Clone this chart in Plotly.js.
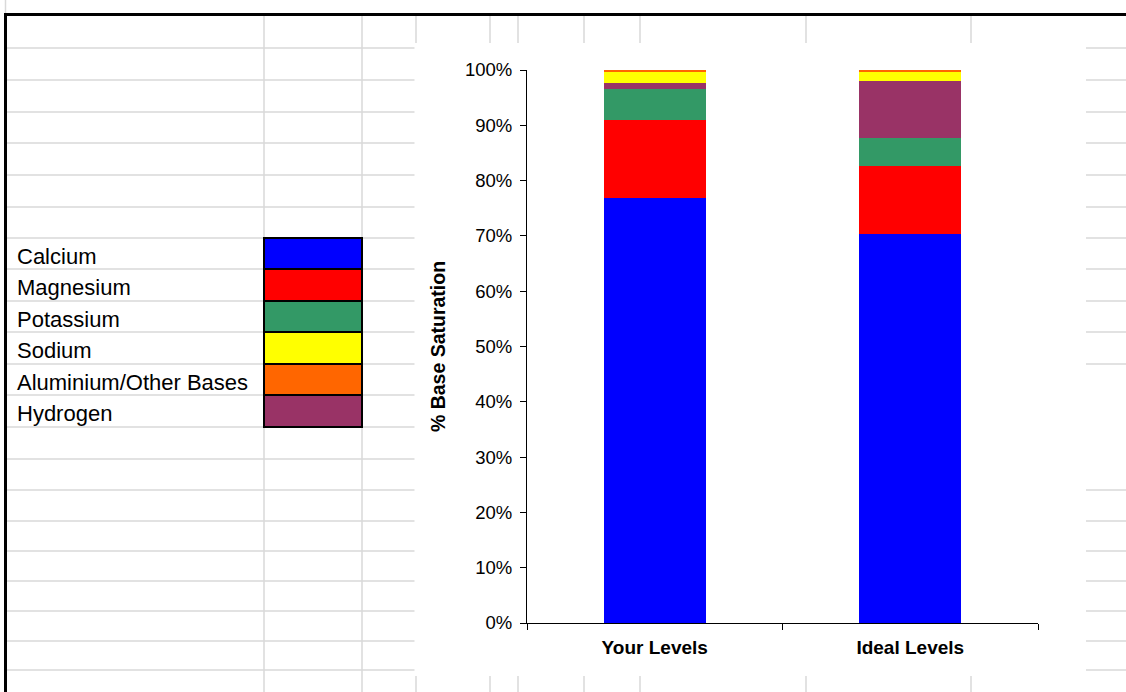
<!DOCTYPE html>
<html>
<head>
<meta charset="utf-8">
<script src="https://cdn.plot.ly/plotly-3.0.1.min.js"></script>
<style>
html,body{margin:0;padding:0;background:#fff;}
#chart{width:1126px;height:692px;}
</style>
</head>
<body>
<div id="chart"></div>
<script>
// ---- data ----
var categories = ["Your Levels", "Ideal Levels"];
var seriesNames = ["Calcium", "Magnesium", "Potassium", "Hydrogen", "Sodium", "Aluminium/Other Bases"];
var calcium   = [76.9, 70.3];
var magnesium = [14.0, 12.3];
var potassium = [5.7, 5.1];
var hydrogen  = [1.1, 10.3];
var sodium    = [2.0, 1.7];
var aluminium = [0.3, 0.3];
var yTickValues = [0, 10, 20, 30, 40, 50, 60, 70, 80, 90, 100];
var legendLabels = ["Calcium", "Magnesium", "Potassium", "Sodium", "Aluminium/Other Bases", "Hydrogen"];

// ---- styles ----
var colors = {
  "Calcium": "#0000FF",
  "Magnesium": "#FF0000",
  "Potassium": "#339966",
  "Sodium": "#FFFF00",
  "Aluminium/Other Bases": "#FF6600",
  "Hydrogen": "#993366"
};
var W = 1126, H = 692;
function px(x){ return x / W; }
function py(y){ return 1 - y / H; }

var seriesValues = [calcium, magnesium, potassium, hydrogen, sodium, aluminium];
var traces = seriesNames.map(function(name, i){
  return {
    type: "bar",
    name: name,
    x: categories,
    y: seriesValues[i],
    width: 0.4,
    marker: {color: colors[name], line: {width: 0}},
    hoverinfo: "skip",
    showlegend: false
  };
});

// ---- spreadsheet background ----
var gridColor = "#d9d9d9";
var rowsY = [48, 80, 112, 143, 175, 207, 238, 269, 301, 332, 364, 395, 427, 459, 490, 521, 551, 581, 611, 641, 670];
var rightSkip = [395, 427, 459];
var shapes = [];
rowsY.forEach(function(y){
  shapes.push({type:"line", xref:"paper", yref:"paper", layer:"below",
    x0:px(5), x1:px(415), y0:py(y), y1:py(y), line:{color:gridColor, width:1.5}});
  if (rightSkip.indexOf(y) < 0) {
    shapes.push({type:"line", xref:"paper", yref:"paper", layer:"below",
      x0:px(1086), x1:px(1126), y0:py(y), y1:py(y), line:{color:gridColor, width:1.5}});
  }
});
[264, 362, 416, 490, 518, 584, 640, 806, 971].forEach(function(x){
  shapes.push({type:"line", xref:"paper", yref:"paper", layer:"below",
    x0:px(x), x1:px(x), y0:py(14), y1:py(692), line:{color:gridColor, width:1.5}});
});
// chart area (white)
shapes.push({type:"rect", xref:"paper", yref:"paper", layer:"below",
  x0:px(414.5), x1:px(1085.5), y0:py(43), y1:py(676), fillcolor:"#ffffff", line:{width:0}});
// thick borders
shapes.push({type:"line", xref:"paper", yref:"paper", layer:"below",
  x0:px(5.5), x1:px(5.5), y0:py(0), y1:py(13), line:{color:gridColor, width:1.5}});
shapes.push({type:"line", xref:"paper", yref:"paper",
  x0:px(4), x1:px(1126), y0:py(14.5), y1:py(14.5), line:{color:"#000000", width:3}});
shapes.push({type:"line", xref:"paper", yref:"paper",
  x0:px(5.5), x1:px(5.5), y0:py(13), y1:py(692), line:{color:"#000000", width:3}});

// legend cells
var annotations = [];
var legendRows = [238, 269, 301, 332, 364, 395, 427];
legendLabels.forEach(function(lbl, i){
  var top = legendRows[i], bot = legendRows[i+1];
  shapes.push({type:"rect", xref:"paper", yref:"paper",
    x0:px(264), x1:px(362), y0:py(top), y1:py(bot),
    fillcolor: colors[lbl], line:{color:"#000000", width:2}});
  annotations.push({xref:"paper", yref:"paper", x:px(15), y:py((top+bot)/2 + 2.5),
    xanchor:"left", yanchor:"middle", showarrow:false, text:lbl,
    font:{family:"Liberation Sans, Arial, sans-serif", size:22, color:"#000000"}});
});

var layout = {
  width: W, height: H,
  autosize: false,
  margin: {l:0, r:0, t:0, b:0, pad:0},
  paper_bgcolor: "#ffffff",
  plot_bgcolor: "rgba(0,0,0,0)",
  barmode: "stack",
  bargap: 0.6,
  showlegend: false,
  font: {family:"Liberation Sans, Arial, sans-serif", color:"#000000"},
  xaxis: {
    domain: [px(527), px(1038)],
    type: "category",
    range: [-0.5, 1.5],
    showline: true, linecolor:"#000000", linewidth:1,
    ticks: "outside", tickson: "boundaries", ticklen: 6, tickcolor:"#000000", tickwidth:1,
    ticklabelstandoff: 7,
    showgrid: false, zeroline: false,
    tickfont: {family:"Liberation Sans, Arial, sans-serif", size:19, color:"#000000", weight:"bold"},
    fixedrange: true
  },
  yaxis: {
    domain: [py(623), py(70)],
    range: [0, 100],
    tickvals: yTickValues,
    ticktext: yTickValues.map(function(v){ return v + "%"; }),
    showline: true, linecolor:"#000000", linewidth:1,
    ticks: "outside", ticklen: 6, tickcolor:"#000000", tickwidth:1,
    ticklabelstandoff: 4,
    showgrid: false, zeroline: false,
    tickfont: {family:"Liberation Sans, Arial, sans-serif", size:18.5, color:"#000000"},
    title: {text:"% Base Saturation", standoff: 14,
      font:{family:"Liberation Sans, Arial, sans-serif", size:19.5, color:"#000000", weight:"bold"}},
    automargin: false,
    fixedrange: true
  },
  shapes: shapes,
  annotations: annotations
};

Plotly.newPlot("chart", traces, layout, {displayModeBar:false, staticPlot:true});
</script>
</body>
</html>
